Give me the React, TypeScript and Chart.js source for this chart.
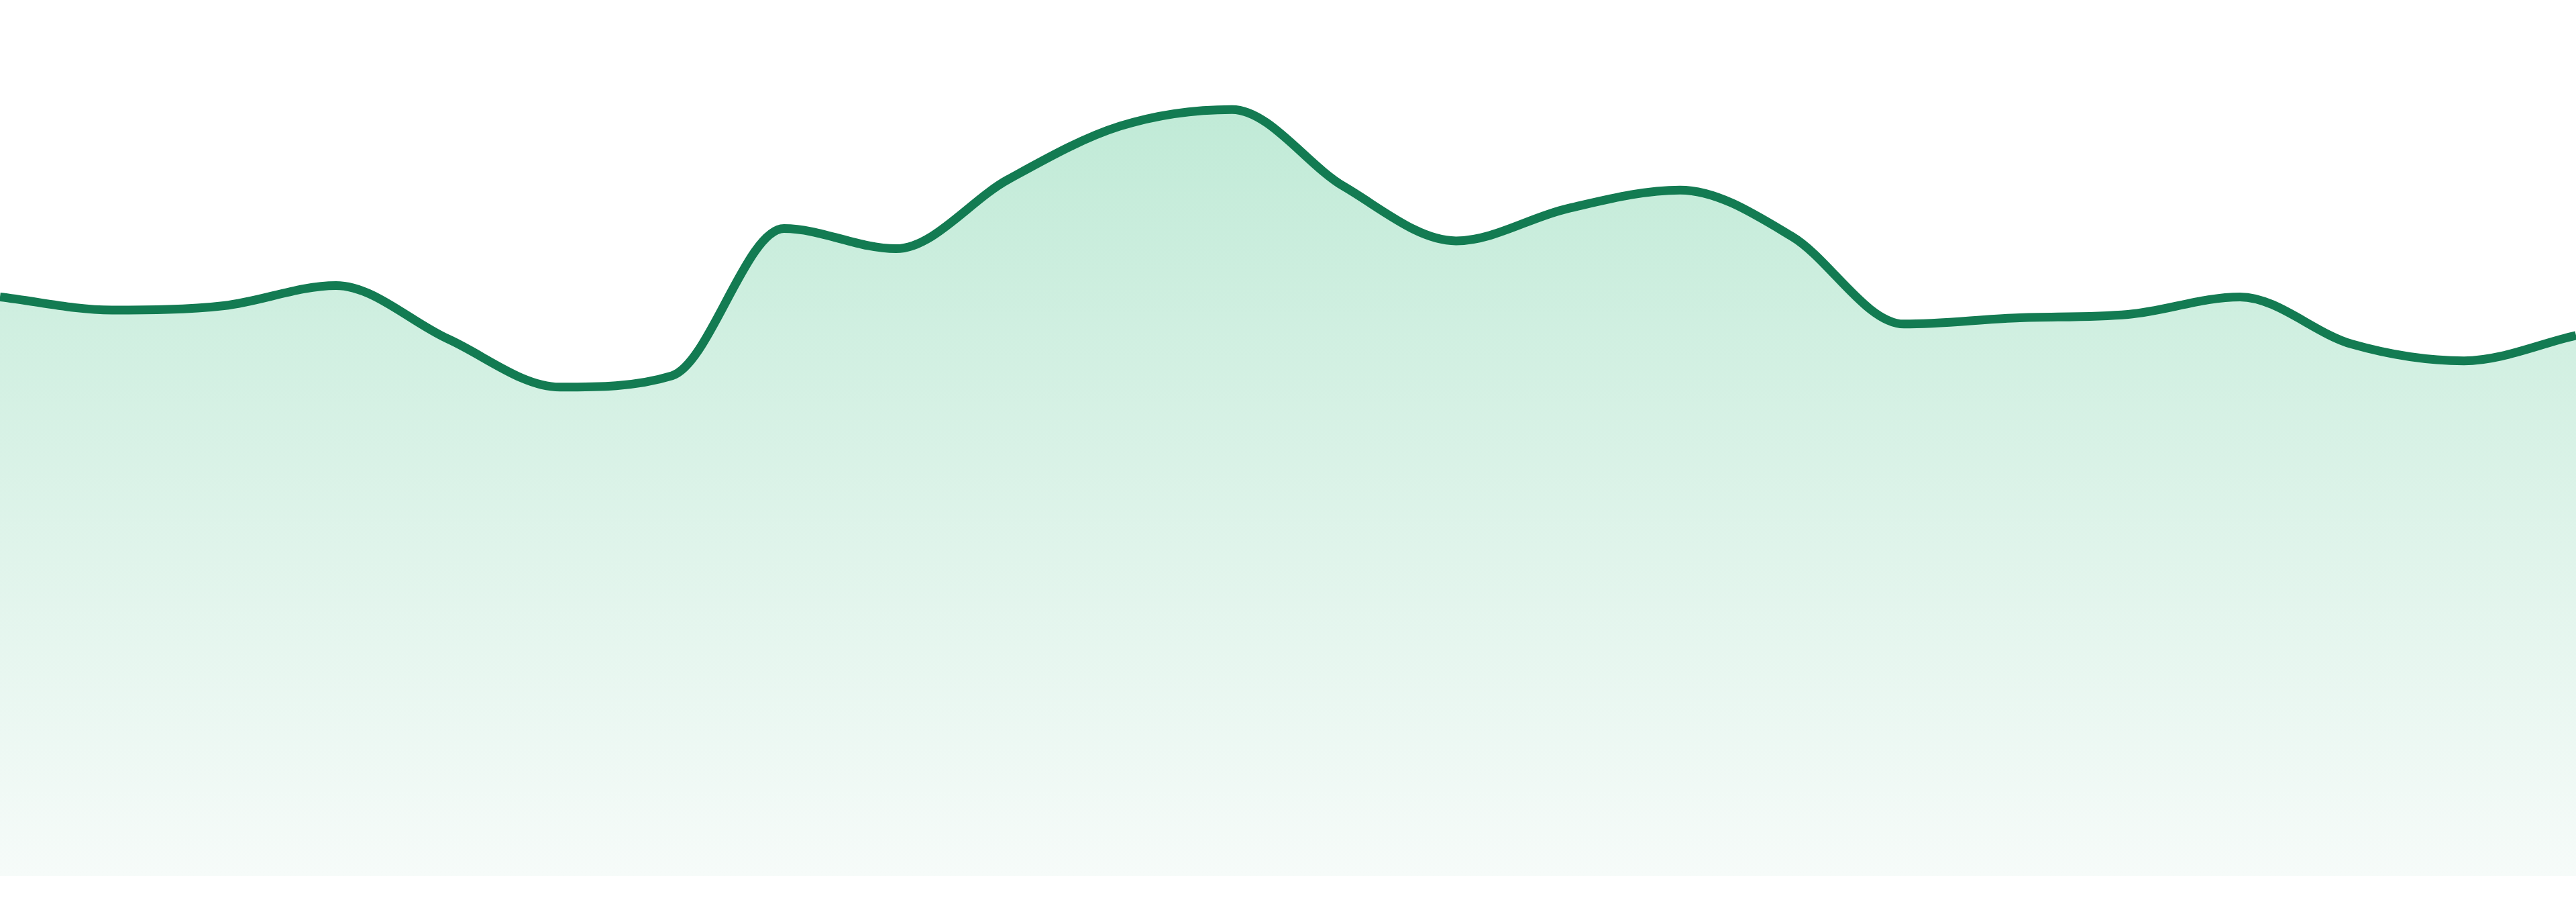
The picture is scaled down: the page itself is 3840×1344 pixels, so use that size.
import { useEffect, useRef } from "react";
import { Chart, registerables } from "chart.js";

Chart.register(...registerables);

// 24 evenly spaced samples (scale 0–100, axis hidden)
const labels = [
  "1", "2", "3", "4", "5", "6", "7", "8", "9", "10", "11", "12",
  "13", "14", "15", "16", "17", "18", "19", "20", "21", "22", "23", "24",
];
const values = [
  66.1, 64.6, 65.1, 67.4, 61.3, 55.8, 57.1, 73.9, 71.6, 79.5, 85.6, 87.5,
  78.7, 72.5, 76.2, 78.3, 73.0, 63.0, 63.7, 64.1, 66.1, 60.7, 58.8, 61.7,
];

export default function App() {
  const ref = useRef<HTMLCanvasElement>(null);

  useEffect(() => {
    const chart = new Chart(ref.current!, {
      type: "line",
      data: {
        labels,
        datasets: [
          {
            data: values,
            borderColor: "#137b52",
            borderWidth: 13,
            pointRadius: 0,
            cubicInterpolationMode: "monotone",
            fill: "origin",
            backgroundColor: (ctx) => {
              const area = ctx.chart.chartArea;
              if (!area) return "#bde9d5";
              const g = ctx.chart.ctx.createLinearGradient(0, area.top, 0, area.bottom);
              g.addColorStop(0, "#b9e8d2");
              g.addColorStop(1, "#f6fbf9");
              return g;
            },
          },
        ],
      },
      options: {
        animation: false,
        responsive: true,
        maintainAspectRatio: false,
        layout: { padding: { top: 0, bottom: 39, left: 0, right: 0 } },
        plugins: { legend: { display: false }, tooltip: { enabled: false } },
        scales: {
          x: { display: false, offset: false },
          y: { display: false, min: 0, max: 100 },
        },
      },
    });
    return () => chart.destroy();
  }, []);

  return (
    <div style={{ position: "fixed", inset: 0, background: "#fff" }}>
      <canvas ref={ref} />
    </div>
  );
}
